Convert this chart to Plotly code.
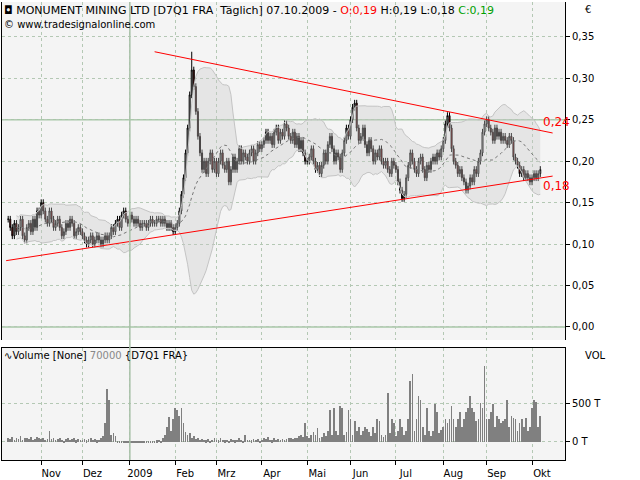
import numpy as np
import pandas as pd
import plotly.graph_objects as go

# daily closes, Oct 10 2008 .. Oct 7 2009
closes = [
    # Oct 08
    0.13, 0.12, 0.11, 0.125, 0.115, 0.12, 0.13, 0.11, 0.105, 0.12, 0.125, 0.115, 0.13, 0.12, 0.14, 0.135,
    # Nov
    0.15, 0.14, 0.13, 0.125, 0.14, 0.13, 0.12, 0.125, 0.13, 0.12, 0.11, 0.115, 0.125, 0.12, 0.13, 0.125,
    0.11, 0.115, 0.12, 0.115,
    # Dec
    0.11, 0.105, 0.10, 0.105, 0.11, 0.10, 0.105, 0.11, 0.105, 0.10, 0.105, 0.11, 0.105, 0.11, 0.12, 0.115,
    0.125, 0.13, 0.12, 0.135, 0.14, 0.13, 0.125,
    # Jan 09
    0.135, 0.13, 0.125, 0.13, 0.125, 0.12, 0.125, 0.125, 0.12, 0.125, 0.13, 0.125, 0.125, 0.13, 0.13, 0.125,
    0.13, 0.125, 0.12, 0.125, 0.12, 0.115,
    # Feb
    0.12, 0.125, 0.14, 0.16, 0.18, 0.21, 0.24, 0.28, 0.31, 0.29, 0.26, 0.23, 0.21, 0.19, 0.20, 0.185,
    0.20, 0.21, 0.19, 0.20,
    # Mar
    0.185, 0.20, 0.21, 0.195, 0.19, 0.20, 0.175, 0.19, 0.205, 0.19, 0.20, 0.215, 0.20, 0.21, 0.205, 0.20,
    0.21, 0.215, 0.20, 0.21, 0.22, 0.215,
    # Apr
    0.22, 0.225, 0.235, 0.225, 0.23, 0.22, 0.235, 0.24, 0.225, 0.235, 0.23, 0.245, 0.24, 0.23, 0.225, 0.235,
    0.22, 0.23, 0.215, 0.225, 0.21, 0.20,
    # May
    0.20, 0.205, 0.215, 0.20, 0.19, 0.195, 0.185, 0.195, 0.21, 0.20, 0.22, 0.23, 0.215, 0.20, 0.21, 0.205,
    0.19, 0.21, 0.225, 0.24, 0.23,
    # Jun
    0.25, 0.265, 0.27, 0.24, 0.225, 0.23, 0.24, 0.22, 0.21, 0.225, 0.215, 0.20, 0.21, 0.205, 0.215, 0.20,
    0.195, 0.20, 0.19, 0.185, 0.20, 0.195,
    # Jul
    0.19, 0.175, 0.165, 0.155, 0.16, 0.18, 0.195, 0.21, 0.20, 0.19, 0.185, 0.20, 0.205, 0.19, 0.18, 0.195,
    0.19, 0.20, 0.205, 0.20, 0.21, 0.205, 0.215,
    # Aug
    0.225, 0.245, 0.255, 0.24, 0.215, 0.20, 0.195, 0.185, 0.19, 0.18, 0.175, 0.165, 0.17, 0.18, 0.175, 0.19,
    0.185, 0.20, 0.21, 0.235, 0.245,
    # Sep
    0.25, 0.24, 0.235, 0.225, 0.24, 0.23, 0.235, 0.225, 0.23, 0.225, 0.22, 0.23, 0.225, 0.205, 0.20, 0.195,
    0.185, 0.19, 0.18, 0.185, 0.18, 0.175,
    # Oct 09
    0.18, 0.185, 0.18, 0.185, 0.19,
]

# volume in thousands
volumes = [
    60, 40, 70, 30, 55, 45, 80, 35, 50, 60, 40, 65, 30, 45, 70, 50,
    40, 55, 35, 45, 150, 40, 60, 30, 45, 50, 35, 20, 40, 55, 30, 45, 60, 25, 40, 35,
    30, 45, 25, 40, 55, 30, 45, 25, 35, 60, 80, 250, 700, 550, 100, 120, 80,
    15, 10, 12, 8, 15, 10, 12, 20, 10, 15, 12, 10, 18, 12, 15, 10, 20, 12, 15, 25, 30, 20,
    60, 100, 200, 330, 150, 300, 450, 420, 350, 450, 250, 130, 100, 120, 60, 80, 40, 50, 30, 40,
    30, 25, 40, 20, 30, 50, 35, 25, 60, 30, 25, 35, 20, 40, 30, 25, 35, 60, 30, 20, 100, 30,
    35, 25, 40, 30, 45, 20, 35, 60, 40, 70, 30, 25, 50, 30, 40, 35, 45, 30, 40, 60, 50, 40,
    50, 60, 80, 90, 70, 250, 80, 60, 100, 130, 90, 180, 60, 70, 120, 80, 150, 420, 100, 450, 150, 100,
    480, 450, 100, 130, 420, 300, 100, 280, 150, 200, 100, 150, 200, 170, 140, 80, 200, 120, 300, 280,
    100, 70, 90, 650, 120, 300, 250, 80, 150, 300, 200, 100, 150, 300, 800, 900, 150, 300, 600, 550, 200,
    100, 450, 150, 80, 150, 500, 400, 120, 160, 200, 300, 250, 300, 480, 300, 200, 300, 400, 200,
    300, 400, 450, 600, 450, 400, 280, 300, 520, 450, 1000, 300, 300, 400, 500, 200, 350, 300, 250,
    280, 300, 550, 200, 350, 320, 300, 150, 250, 300, 200, 320, 150, 200, 450, 550, 530, 200,
    350, 300, 550, 80,
]
volumes = (volumes + [0] * len(closes))[:len(closes)]

# trend lines drawn in the chart (bar index, price)
upper_x, upper_y = [71, 264], [0.332, 0.234]
lower_x, lower_y = [-1, 264], [0.080, 0.182]

month_names = ["Nov", "Dez", "2009", "Feb", "Mrz", "Apr", "Mai", "Jun", "Jul", "Aug", "Sep", "Okt"]

dates = pd.bdate_range(end="2009-10-07", periods=len(closes))
idx = np.arange(len(closes))
c = np.array(closes)
o = np.concatenate([[c[0]], c[:-1]])
h = np.maximum(o, c) + 0.004
l = np.minimum(o, c) - 0.004
h[np.argmax(c)] = 0.332

s = pd.Series(c)
sma = s.rolling(20, min_periods=5).mean()
sd = s.rolling(20, min_periods=5).std(ddof=0)
bb_up, bb_lo = sma + 2 * sd, sma - 2 * sd

ser = pd.Series(idx, index=dates)
month_ticks = [int(ser[ser.index.to_period("M") == p].iloc[0])
               for p in pd.period_range("2008-11", "2009-10", freq="M")]

grid = "#b4c8b4"
fig = go.Figure()
fig.add_trace(go.Scatter(x=idx, y=bb_up, mode="lines", line=dict(color="#c4c4c4", width=1),
                         hoverinfo="skip", yaxis="y2"))
fig.add_trace(go.Scatter(x=idx, y=bb_lo, mode="lines", line=dict(color="#c4c4c4", width=1),
                         fill="tonexty", fillcolor="rgba(200,200,200,0.35)", hoverinfo="skip", yaxis="y2"))
fig.add_trace(go.Scatter(x=idx, y=sma, mode="lines", line=dict(color="#777", width=1, dash="dot"),
                         hoverinfo="skip", yaxis="y2"))
fig.add_trace(go.Candlestick(x=idx, open=o, high=h, low=l, close=c, yaxis="y2",
                             increasing=dict(fillcolor="white", line=dict(color="black", width=1)),
                             decreasing=dict(fillcolor="#e00000", line=dict(color="black", width=1)),
                             whiskerwidth=0))
fig.add_trace(go.Scatter(x=upper_x, y=upper_y, mode="lines", line=dict(color="red", width=1), yaxis="y2"))
fig.add_trace(go.Scatter(x=lower_x, y=lower_y, mode="lines", line=dict(color="red", width=1), yaxis="y2"))
fig.add_trace(go.Bar(x=idx, y=volumes, marker=dict(color="#808080", line=dict(width=0)), width=0.35, yaxis="y"))

xr = [-3, 270]
fig.update_layout(
    width=640, height=480, margin=dict(l=2, r=75, t=2, b=20),
    paper_bgcolor="white", plot_bgcolor="#f4f4f4", showlegend=False, separators=",.",
    font=dict(family="DejaVu Sans, Liberation Sans", size=10, color="black"),
    bargap=0,
    xaxis=dict(range=xr, tickvals=month_ticks, ticktext=month_names, ticks="outside", ticklen=4,
               tickcolor="black", ticklabelshift=10, showgrid=True, gridcolor=grid, griddash="dot",
               showline=True, linecolor="black", mirror=True, zeroline=False, automargin=False,
               rangeslider=dict(visible=False)),
    yaxis=dict(domain=[0, 0.245], range=[-237, 1237], side="right", tickvals=[0, 500],
               ticktext=["0 T", "500 T"], ticks="outside", ticklen=4, tickcolor="black",
               showgrid=True, gridcolor=grid, griddash="dot", zeroline=False, automargin=False,
               showline=True, linecolor="black", mirror=True),
    yaxis2=dict(domain=[0.262, 1], range=[-0.0157, 0.392], side="right", dtick=0.05, tickformat=".2f",
                ticks="outside", ticklen=4, tickcolor="black", automargin=False,
                showgrid=True, gridcolor=grid, griddash="dot", zeroline=False,
                showline=True, linecolor="black", mirror=True),
)
# 2009 year separator and reference lines
fig.add_shape(type="line", xref="x", yref="paper", x0=month_ticks[2], x1=month_ticks[2], y0=0, y1=1,
              line=dict(color="#a8c0a8", width=1.5))
for yv in [0.25, 0.0]:
    fig.add_shape(type="line", xref="paper", yref="y2", x0=0, x1=1, y0=yv, y1=yv,
                  line=dict(color="#a8c8a8", width=1.5), layer="below")

fig.add_annotation(xref="paper", yref="paper", x=0.0, y=1.0, xanchor="left", yanchor="top", showarrow=False,
                   text="◘ MONUMENT MINING LTD [D7Q1 FRA  Täglich] 07.10.2009 - "
                        "<span style='color:red'>O:0,19</span> H:0,19 L:0,18 "
                        "<span style='color:#00a000'>C:0,19</span>", font=dict(size=11))
fig.add_annotation(xref="paper", yref="paper", x=0.0, y=0.968, xanchor="left", yanchor="top", showarrow=False,
                   text="© www.tradesignalonline.com", font=dict(size=10))
fig.add_annotation(xref="paper", yref="paper", x=1.0, y=1.0, xanchor="left", yanchor="top", xshift=18,
                   showarrow=False, text="€")
fig.add_annotation(xref="paper", yref="paper", x=0.0, y=0.245, xanchor="left", yanchor="top", showarrow=False,
                   text="∿Volume [None] <span style='color:#888'>70000</span> {D7Q1 FRA}", font=dict(size=10))
fig.add_annotation(xref="paper", yref="paper", x=1.0, y=0.245, xanchor="left", yanchor="top", xshift=18,
                   showarrow=False, text="VOL")
fig.add_annotation(x=upper_x[1], y=0.247, yref="y2", xanchor="left", showarrow=False, xshift=-12,
                   text="0,24", font=dict(color="red", size=12))
fig.add_annotation(x=upper_x[1], y=0.170, yref="y2", xanchor="left", showarrow=False, xshift=-12,
                   text="0,18", font=dict(color="red", size=12))

fig.write_html("out.html", config={"displayModeBar": False},
               post_script="document.body.style.margin='0';")
